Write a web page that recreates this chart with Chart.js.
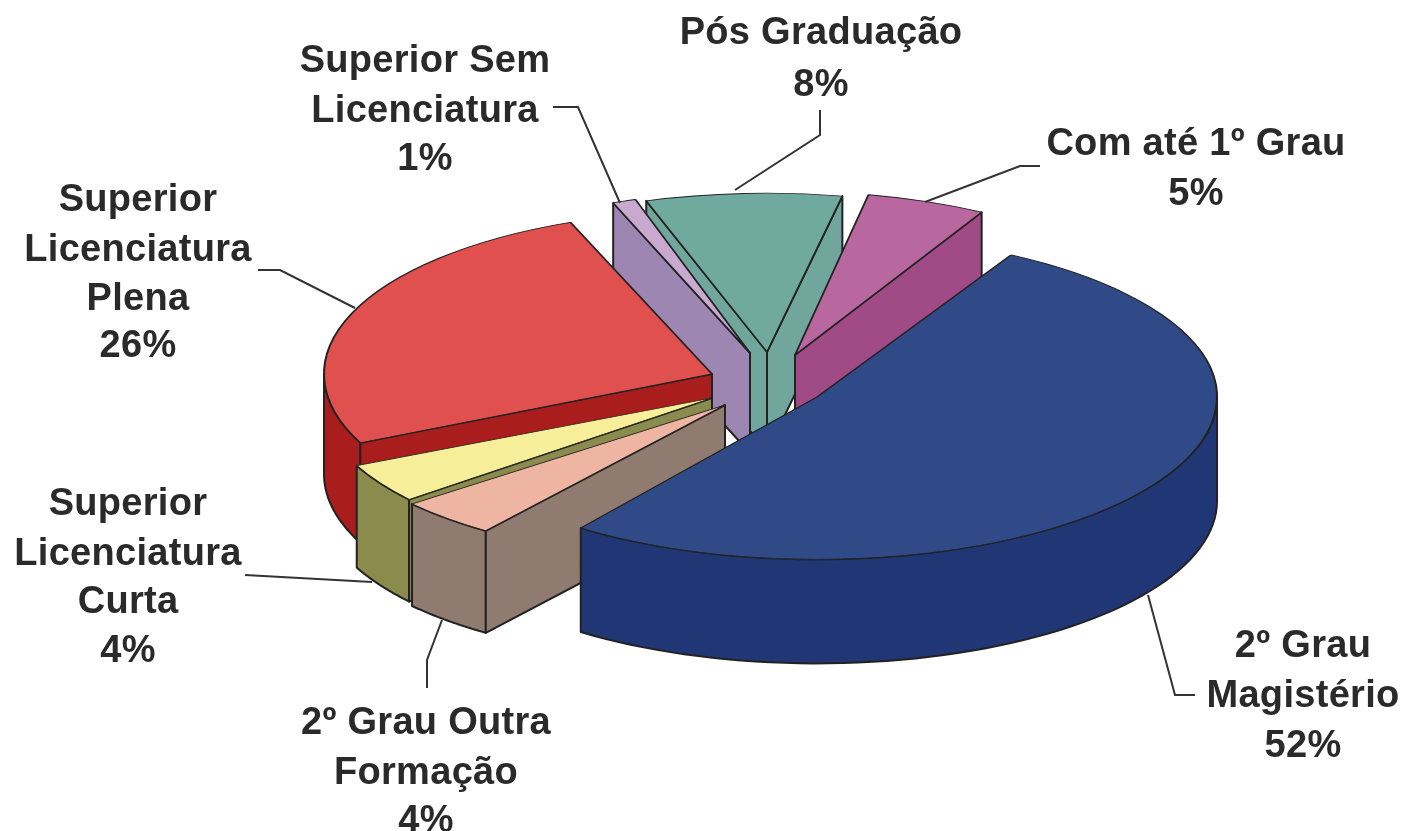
<!DOCTYPE html>
<html lang="pt">
<head>
<meta charset="utf-8">
<title>Formação</title>
<script src="https://cdn.jsdelivr.net/npm/chart.js@4"></script>
<style>
  html, body { margin: 0; background: #fff; }
  #wrap { width: 1404px; height: 831px; position: relative; }
  canvas { filter: blur(0.7px); }
</style>
</head>
<body>
<div id="wrap"><canvas id="pie"></canvas></div>
<script>
const categories = ['Com até 1º Grau', '2º Grau Magistério', '2º Grau Outra Formação', 'Superior Licenciatura Curta', 'Superior Licenciatura Plena', 'Superior Sem Licenciatura', 'Pós Graduação'];
const values = [5, 52, 4, 4, 26, 1, 8];

const topColors = ['#b8689f', '#2f4a86', '#eeb5a2', '#f6ee98', '#e0504e', '#c9a9cf', '#70a99d'];
const wallColors = ['#a04a86', '#2f4a86', '#8f7b70', '#8b8b4e', '#a91d1d', '#9d86b2', '#70a69c'];
const rimColors = ['#a04a86', '#203675', '#8f7b70', '#8b8b4e', '#a91d1d', '#9d86b2', '#70a69c'];

// slice pull-out from the pie centre (screen px), radius and tilt per slice
const shiftX = [28, 50, -42, -55, -55, -17, 0];
const shiftY = [-27, 15, 23, 16, -8, -29, -30];
const radii = [385, 400, 405, 392, 388, 375, 395];
const squash = [0.424, 0.406, 0.385, 0.408, 0.42, 0.43, 0.402];
const depths = [100, 104, 102, 102, 100, 100, 100];
const paintOrder = [6, 5, 0, 4, 3, 2, 1];
const ink = '#222';

const calloutText = [
  { lines: ['Com até 1º Grau', '5%'], x: 1196, y: [145, 195] },
  { lines: ['2º Grau', 'Magistério', '52%'], x: 1303, y: [647, 697, 747] },
  { lines: ['2º Grau Outra', 'Formação', '4%'], x: 426, y: [724, 774, 822] },
  { lines: ['Superior', 'Licenciatura', 'Curta', '4%'], x: 128, y: [505, 555, 603, 652] },
  { lines: ['Superior', 'Licenciatura', 'Plena', '26%'], x: 138, y: [201, 251, 300, 347] },
  { lines: ['Superior Sem', 'Licenciatura', '1%'], x: 425, y: [62, 112, 160] },
  { lines: ['Pós Graduação', '8%'], x: 821, y: [34, 86] }
];
const leaders = [
  [[1040, 166], [1020, 166], [925, 202]],
  [[1195, 695], [1175, 695], [1148, 595]],
  [[427, 688], [427, 660], [442, 620]],
  [[245, 575], [372, 582]],
  [[258, 270], [280, 270], [355, 308]],
  [[553, 107], [578, 107], [620, 203]],
  [[820, 110], [820, 135], [735, 190]]
];

function polygon(ctx, points, fill) {
  ctx.beginPath();
  points.forEach(([x, y], i) => (i ? ctx.lineTo(x, y) : ctx.moveTo(x, y)));
  ctx.closePath();
  ctx.fillStyle = fill;
  ctx.fill();
  ctx.stroke();
}

function drawSlice(ctx, arc, i) {
  const ax = arc.x + shiftX[i];
  const ay = arc.y + shiftY[i];
  const r = radii[i];
  const { startAngle, endAngle } = arc.getProps(['startAngle', 'endAngle']);
  const at = (angle) => [ax + Math.cos(angle) * r, ay + Math.sin(angle) * r * squash[i]];
  const drop = ([x, y]) => [x, y + depths[i]];

  ctx.strokeStyle = ink;
  ctx.lineWidth = 2;
  ctx.lineJoin = 'round';

  // outer rim, only the part that faces the viewer
  const from = Math.max(startAngle, 0);
  const to = Math.min(endAngle, Math.PI);
  if (to > from) {
    const top = [];
    for (let s = 0; s <= 60; s++) top.push(at(from + (to - from) * s / 60));
    polygon(ctx, top.concat(top.slice().reverse().map(drop)), rimColors[i]);
  }

  // cut faces
  const apex = [ax, ay];
  if (-Math.cos(startAngle) > 0) polygon(ctx, [apex, at(startAngle), drop(at(startAngle)), drop(apex)], wallColors[i]);
  if (Math.cos(endAngle) > 0) polygon(ctx, [apex, at(endAngle), drop(at(endAngle)), drop(apex)], wallColors[i]);

  // top face, drawn by the arc element itself
  const baseRadius = arc.outerRadius;
  ctx.save();
  ctx.translate(ax, ay);
  ctx.scale(1, squash[i]);
  ctx.translate(-arc.x, -arc.y);
  arc.outerRadius = r;
  arc.draw(ctx);
  arc.outerRadius = baseRadius;
  ctx.restore();
}

const pie3d = {
  id: 'pie3d',
  beforeDatasetsDraw(chart) {
    const { ctx } = chart;
    const arcs = chart.getDatasetMeta(0).data;
    ctx.save();
    paintOrder.forEach((i) => drawSlice(ctx, arcs[i], i));
    ctx.restore();
    return false;
  },
  afterDraw(chart) {
    const { ctx } = chart;
    ctx.save();
    ctx.strokeStyle = '#333';
    ctx.lineWidth = 2;
    leaders.forEach((line) => {
      ctx.beginPath();
      line.forEach(([x, y], i) => (i ? ctx.lineTo(x, y) : ctx.moveTo(x, y)));
      ctx.stroke();
    });
    ctx.fillStyle = '#2a2a2a';
    ctx.font = "bold 38px 'Liberation Sans', Arial, sans-serif";
    ctx.letterSpacing = '0.3px';
    ctx.textAlign = 'center';
    ctx.textBaseline = 'middle';
    calloutText.forEach((item) => {
      item.lines.forEach((line, i) => ctx.fillText(line, item.x, item.y[i]));
    });
    ctx.restore();
  }
};

new Chart(document.querySelector('#pie'), {
  type: 'pie',
  data: {
    labels: categories,
    datasets: [{
      data: values,
      backgroundColor: topColors,
      borderColor: ink,
      borderWidth: 2
    }]
  },
  options: {
    responsive: true,
    maintainAspectRatio: false,
    animation: false,
    events: [],
    rotation: 11,
    radius: 400,
    layout: { padding: { left: 130, bottom: 67 } },
    plugins: { legend: { display: false }, tooltip: { enabled: false } }
  },
  plugins: [pie3d]
});
</script>
</body>
</html>
